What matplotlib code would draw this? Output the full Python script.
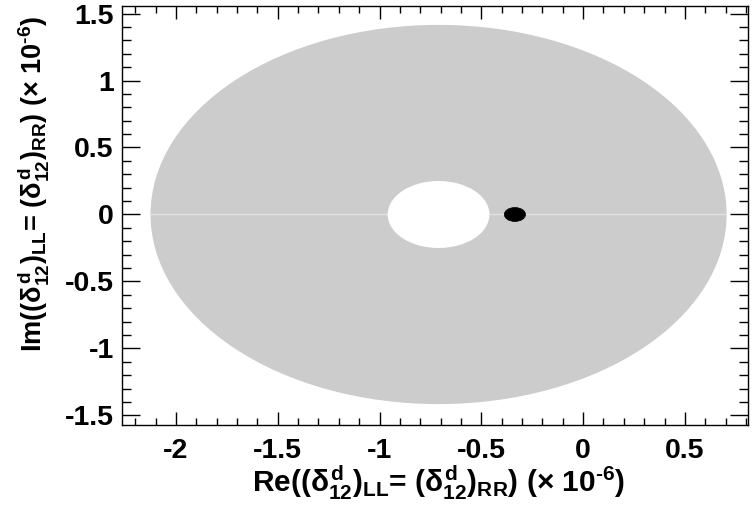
import matplotlib
matplotlib.use("Agg")
import matplotlib.pyplot as plt
from matplotlib.patches import Annulus, Ellipse
from matplotlib.ticker import MultipleLocator
import numpy as np

# ---- data (units of 1e-6) ----
region_center = [-0.71, 0.0]      # centre of the allowed annulus (Re, Im)
region_outer_radius = 1.415
region_inner_radius = 0.25
point_center = [-0.335, 0.0]      # black best-fit point
point_radius = 0.052
x_ticks = [-2, -1.5, -1, -0.5, 0, 0.5]
y_ticks = [-1.5, -1, -0.5, 0, 0.5, 1, 1.5]
x_tick_labels = ["-2", "-1.5", "-1", "-0.5", "0", "0.5"]
y_tick_labels = ["-1.5", "-1", "-0.5", "0", "0.5", "1", "1.5"]

plt.rcParams['font.family'] = ['Liberation Sans', 'DejaVu Sans']
plt.rcParams['font.weight'] = 'bold'
plt.rcParams['axes.unicode_minus'] = False
plt.rcParams['mathtext.fontset'] = 'custom'
plt.rcParams['mathtext.rm'] = 'Liberation Sans:bold'
plt.rcParams['mathtext.bf'] = 'Liberation Sans:bold'
plt.rcParams['mathtext.it'] = 'Liberation Sans'
plt.rcParams['mathtext.default'] = 'rm'

W, H = 755, 517
fig = plt.figure(figsize=(W / 100, H / 100), dpi=100)
ax = fig.add_axes([122 / W, 1 - 425 / H, (748 - 122) / W, (425 - 6) / H])

ax.set_xlim(-2.265, 0.81)
ax.set_ylim(-1.571, 1.556)

ann = Annulus(region_center, region_outer_radius,
              region_outer_radius - region_inner_radius,
              facecolor='#cccccc', edgecolor='none', zorder=1)
ax.add_patch(ann)
cx, cy = region_center
ax.plot([cx - region_outer_radius, cx + region_outer_radius], [cy, cy],
        color='white', alpha=0.45, lw=1.0, zorder=2)
dot = Ellipse(point_center, 2 * point_radius, 2 * point_radius,
              facecolor='black', edgecolor='black', lw=0.5, zorder=3)
ax.add_patch(dot)

ax.set_xticks(x_ticks)
ax.set_xticklabels(x_tick_labels)
ax.set_yticks(y_ticks)
ax.set_yticklabels(y_tick_labels)
ax.xaxis.set_minor_locator(MultipleLocator(0.1))
ax.yaxis.set_minor_locator(MultipleLocator(0.1))

ax.tick_params(axis='x', which='major', direction='in', length=9.2, width=1.0,
               top=True, bottom=True, labelsize=20.5, pad=9)
ax.tick_params(axis='x', which='minor', direction='in', length=5.0, width=1.0,
               top=True, bottom=True)
ax.tick_params(axis='y', which='major', direction='in', length=13, width=1.0,
               left=True, right=True, labelsize=20.5, pad=6)
ax.tick_params(axis='y', which='minor', direction='in', length=6.5, width=1.0,
               left=True, right=True)
for lab in ax.get_xticklabels() + ax.get_yticklabels():
    lab.set_fontweight('bold')
for s in ax.spines.values():
    s.set_linewidth(1.0)

xlabel = (r'$Re((\mathit{\delta}^{d}_{12})_{LL}$= '
          r'$(\mathit{\delta}^{d}_{12})_{RR}$) ($\mathit{\times}$ 10$^{‐6}$)')
ylabel = (r'$Im((\mathit{\delta}^{d}_{12})_{LL}$= '
          r'$(\mathit{\delta}^{d}_{12})_{RR}$) ($\mathit{\times}$ 10$^{‐6}$)')

fig.text(438.5 / W, 1 - 492 / H, xlabel, ha='center', va='baseline',
         fontsize=21.5, fontweight='bold')
fig.text(42 / W, 1 - 184 / H, ylabel, ha='center', va='baseline',
         rotation=90, rotation_mode='anchor', fontsize=19.5, fontweight='bold')

fig.savefig('out.png', dpi=100)
